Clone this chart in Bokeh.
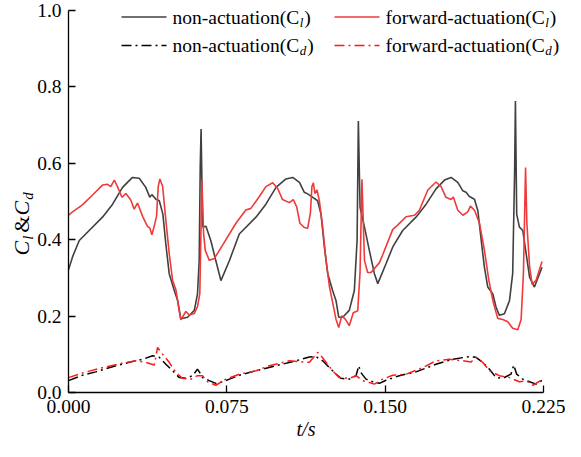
import math
from bokeh.plotting import figure
from bokeh.models import FixedTicker, NumeralTickFormatter, Label
from bokeh.embed import file_html
from bokeh.resources import INLINE

# ---------------- data ----------------
t_cl_non = [0.0000, 0.0019, 0.0051, 0.0098, 0.0161, 0.0209, 0.0256, 0.0303, 0.0335, 0.0366,
            0.0385, 0.0395, 0.0414, 0.0430, 0.0447, 0.0461, 0.0477, 0.0501, 0.0517, 0.0532,
            0.0564, 0.0596, 0.0611, 0.0619, 0.0624, 0.0628, 0.0632, 0.0635, 0.0651, 0.0674,
            0.0698, 0.0722, 0.0762, 0.0809, 0.0888, 0.0935, 0.0983, 0.1030, 0.1062, 0.1094,
            0.1117, 0.1133, 0.1157, 0.1180, 0.1196, 0.1212, 0.1228, 0.1251, 0.1267, 0.1280,
            0.1299, 0.1330, 0.1354, 0.1367, 0.1373, 0.1381, 0.1402, 0.1425, 0.1449, 0.1465,
            0.1504, 0.1536, 0.1583, 0.1646, 0.1694, 0.1741, 0.1781, 0.1812, 0.1844, 0.1868,
            0.1883, 0.1899, 0.1923, 0.1939, 0.1955, 0.1970, 0.1986, 0.2010, 0.2025, 0.2041,
            0.2065, 0.2089, 0.2104, 0.2113, 0.2117, 0.2123, 0.2136, 0.2152, 0.2168, 0.2184,
            0.2207, 0.2243]
cl_non = [0.321, 0.355, 0.398, 0.424, 0.459, 0.493, 0.537, 0.563, 0.561, 0.537,
          0.511, 0.518, 0.506, 0.502, 0.467, 0.389, 0.311, 0.267, 0.241, 0.193,
          0.197, 0.215, 0.258, 0.345, 0.590, 0.690, 0.550, 0.433, 0.435, 0.398,
          0.345, 0.293, 0.345, 0.415, 0.459, 0.493, 0.537, 0.559, 0.563, 0.550,
          0.524, 0.520, 0.511, 0.502, 0.467, 0.381, 0.311, 0.267, 0.241, 0.197,
          0.197, 0.215, 0.267, 0.398, 0.711, 0.485, 0.433, 0.372, 0.311, 0.285,
          0.337, 0.381, 0.424, 0.459, 0.493, 0.533, 0.556, 0.563, 0.550, 0.528,
          0.524, 0.513, 0.506, 0.476, 0.398, 0.328, 0.276, 0.258, 0.224, 0.202,
          0.206, 0.241, 0.311, 0.572, 0.763, 0.467, 0.433, 0.424, 0.363, 0.302,
          0.276, 0.328]

t_cl_fwd = [0.0000, 0.0019, 0.0066, 0.0114, 0.0161, 0.0185, 0.0200, 0.0217, 0.0232, 0.0253,
            0.0272, 0.0295, 0.0311, 0.0327, 0.0351, 0.0374, 0.0385, 0.0395, 0.0406, 0.0417,
            0.0425, 0.0433, 0.0446, 0.0461, 0.0477, 0.0493, 0.0509, 0.0521, 0.0532, 0.0556,
            0.0572, 0.0596, 0.0611, 0.0622, 0.0632, 0.0640, 0.0648, 0.0667, 0.0691, 0.0730,
            0.0793, 0.0840, 0.0864, 0.0904, 0.0935, 0.0967, 0.0991, 0.1014, 0.1046, 0.1065,
            0.1081, 0.1096, 0.1117, 0.1133, 0.1146, 0.1153, 0.1160, 0.1167, 0.1177, 0.1188,
            0.1204, 0.1220, 0.1236, 0.1251, 0.1267, 0.1280, 0.1295, 0.1311, 0.1330, 0.1349,
            0.1370, 0.1381, 0.1390, 0.1402, 0.1417, 0.1433, 0.1473, 0.1488, 0.1536, 0.1559,
            0.1599, 0.1639, 0.1662, 0.1702, 0.1741, 0.1765, 0.1788, 0.1812, 0.1823, 0.1844,
            0.1868, 0.1891, 0.1904, 0.1923, 0.1947, 0.1970, 0.1991, 0.2010, 0.2033, 0.2057,
            0.2081, 0.2104, 0.2128, 0.2144, 0.2155, 0.2165, 0.2171, 0.2184, 0.2196, 0.2215,
            0.2243]
cl_fwd = [0.464, 0.473, 0.491, 0.517, 0.543, 0.545, 0.539, 0.556, 0.539, 0.511,
          0.521, 0.504, 0.480, 0.496, 0.461, 0.435, 0.431, 0.413, 0.435, 0.461,
          0.539, 0.559, 0.539, 0.452, 0.364, 0.294, 0.268, 0.225, 0.190, 0.212,
          0.203, 0.207, 0.225, 0.259, 0.556, 0.415, 0.372, 0.346, 0.351, 0.386,
          0.443, 0.478, 0.482, 0.513, 0.539, 0.549, 0.534, 0.505, 0.497, 0.505,
          0.486, 0.443, 0.432, 0.430, 0.471, 0.539, 0.549, 0.521, 0.530, 0.503,
          0.434, 0.346, 0.277, 0.236, 0.192, 0.170, 0.201, 0.192, 0.175, 0.209,
          0.214, 0.314, 0.558, 0.346, 0.314, 0.314, 0.340, 0.360, 0.427, 0.438,
          0.460, 0.464, 0.477, 0.530, 0.551, 0.539, 0.511, 0.505, 0.512, 0.477,
          0.464, 0.473, 0.488, 0.477, 0.443, 0.373, 0.294, 0.241, 0.194, 0.191,
          0.185, 0.168, 0.164, 0.191, 0.314, 0.589, 0.445, 0.331, 0.283, 0.294,
          0.343]

t_cd_non = [0.0000, 0.0066, 0.0129, 0.0224, 0.0288, 0.0351, 0.0398, 0.0430, 0.0461, 0.0493,
            0.0525, 0.0556, 0.0588, 0.0611, 0.0622, 0.0635, 0.0667, 0.0698, 0.0730, 0.0762,
            0.0809, 0.0888, 0.0983, 0.1077, 0.1141, 0.1172, 0.1204, 0.1236, 0.1267, 0.1291,
            0.1330, 0.1362, 0.1375, 0.1385, 0.1409, 0.1441, 0.1473, 0.1504, 0.1567, 0.1646,
            0.1741, 0.1820, 0.1899, 0.1930, 0.1962, 0.1994, 0.2025, 0.2057, 0.2096, 0.2109,
            0.2123, 0.2152, 0.2184, 0.2215, 0.2247]
cd_non = [0.031, 0.045, 0.054, 0.070, 0.079, 0.087, 0.096, 0.092, 0.074, 0.057,
          0.039, 0.037, 0.044, 0.061, 0.052, 0.039, 0.031, 0.024, 0.028, 0.035,
          0.045, 0.057, 0.070, 0.083, 0.093, 0.094, 0.083, 0.065, 0.048, 0.037,
          0.035, 0.044, 0.070, 0.052, 0.035, 0.028, 0.024, 0.032, 0.044, 0.054,
          0.074, 0.087, 0.094, 0.092, 0.079, 0.061, 0.039, 0.037, 0.048, 0.072,
          0.048, 0.035, 0.028, 0.022, 0.033]

t_cd_fwd = [0.0000, 0.0066, 0.0161, 0.0256, 0.0319, 0.0366, 0.0406, 0.0422, 0.0446, 0.0477,
            0.0509, 0.0540, 0.0580, 0.0611, 0.0635, 0.0659, 0.0698, 0.0746, 0.0809, 0.0888,
            0.0951, 0.1046, 0.1109, 0.1141, 0.1180, 0.1196, 0.1220, 0.1251, 0.1283, 0.1330,
            0.1362, 0.1393, 0.1425, 0.1449, 0.1488, 0.1536, 0.1599, 0.1678, 0.1741, 0.1804,
            0.1868, 0.1907, 0.1930, 0.1962, 0.1994, 0.2041, 0.2089, 0.2136, 0.2168, 0.2199,
            0.2247]
cd_fwd = [0.039, 0.051, 0.065, 0.077, 0.083, 0.079, 0.072, 0.118, 0.100, 0.079,
          0.052, 0.037, 0.035, 0.044, 0.044, 0.028, 0.019, 0.035, 0.048, 0.057,
          0.070, 0.083, 0.080, 0.079, 0.105, 0.096, 0.079, 0.057, 0.039, 0.037,
          0.044, 0.031, 0.026, 0.022, 0.035, 0.045, 0.048, 0.065, 0.083, 0.087,
          0.083, 0.080, 0.092, 0.079, 0.057, 0.044, 0.039, 0.028, 0.031, 0.019,
          0.035]

x_ticks = [0.0, 0.075, 0.150, 0.225]
y_ticks = [0.0, 0.2, 0.4, 0.6, 0.8, 1.0]
X_LIM = (0.0, 0.225)
Y_LIM = (0.0, 1.0)

# ---------------- layout (page pixels of the reference) ----------------
FONT = "Liberation Serif, Times New Roman, serif"
GRAY = "#404040"
RED_L = "#f03a3a"
RED_D = "#ff1a1a"
DASHDOT = "10 4 2 4"

W, H = 565, 441                 # canvas (page offset 8px)
AX_L, AX_R = 76.0, 551.0        # page x of x=0 and x=0.225
AX_B, AX_T = 400.0, 18.0        # page y of y=0 and y=1
KX = (X_LIM[1] - X_LIM[0]) / (AX_R - AX_L)
KY = (Y_LIM[1] - Y_LIM[0]) / (AX_B - AX_T)


def dx(px):
    return X_LIM[0] + (px - AX_L) * KX


def dy(py):
    return Y_LIM[0] + (AX_B - py) * KY


x_range = (dx(8), dx(8 + W))
y_range = (dy(8 + H), dy(8))

p = figure(width=W, height=H, x_range=x_range, y_range=y_range,
           output_backend="svg", toolbar_location=None, min_border=0)
p.outline_line_color = None
p.xgrid.visible = False
p.ygrid.visible = False
p.background_fill_color = "white"
p.border_fill_color = "white"

for ax in (p.xaxis[0], p.yaxis[0]):
    ax.axis_line_color = "black"
    ax.axis_line_width = 1.3
    ax.major_tick_line_color = "black"
    ax.major_tick_line_width = 1.3
    ax.major_tick_in = 7
    ax.major_tick_out = 0
    ax.minor_tick_line_color = None
    ax.major_label_text_font = FONT
    ax.major_label_text_font_size = "19.5px"
    ax.major_label_text_color = "black"

p.xaxis.fixed_location = Y_LIM[0]
p.yaxis.fixed_location = X_LIM[0]
p.xaxis.bounds = X_LIM
p.yaxis.bounds = Y_LIM
p.xaxis.major_label_standoff = 7
p.yaxis.major_label_standoff = 7
p.xaxis.ticker = FixedTicker(ticks=x_ticks)
p.xaxis.formatter = NumeralTickFormatter(format="0.000")
p.yaxis.ticker = FixedTicker(ticks=y_ticks)
p.yaxis.formatter = NumeralTickFormatter(format="0.0")

# ---------------- series ----------------
p.line(t_cl_non, cl_non, line_color=GRAY, line_width=1.6)
p.line(t_cl_fwd, cl_fwd, line_color=RED_L, line_width=1.6)
p.line(t_cd_non, cd_non, line_color="black", line_width=1.5, line_dash=DASHDOT)
p.line(t_cd_fwd, cd_fwd, line_color=RED_D, line_width=1.5, line_dash=DASHDOT)


def lab(x, y, text, size="19.5px", style="normal", align="left", angle=0.0):
    p.add_layout(Label(x=x, y=y, text=text, text_font=FONT, text_font_size=size,
                       text_font_style=style, text_color="black",
                       text_baseline="middle", text_align=align, angle=angle))


# ---------------- x axis label ----------------
lab(dx(313.5), dy(436), "t/s", size="20px", style="italic", align="center")

# ---------------- manual legend ----------------
FS = 19.5
SUB = 13
rows = [24.5, 53.0]
cols = [180.0, 393.0]
entries = [
    ("non-actuation(C", "l", GRAY, 1.6, None, 0, 0),
    ("forward-actuation(C", "l", RED_L, 1.6, None, 0, 1),
    ("non-actuation(C", "d", "black", 1.5, DASHDOT, 1, 0),
    ("forward-actuation(C", "d", RED_D, 1.5, DASHDOT, 1, 1),
]
pref_w = {"non-actuation(C": 6.499, "forward-actuation(C": 8.164}
sub_w = {"l": 0.278, "d": 0.5}
for prefix, sub, color, lw, dash, r, c in entries:
    ty = rows[r]
    tx = cols[c]
    kw = dict(line_color=color, line_width=lw)
    if dash:
        kw["line_dash"] = dash
    p.line([dx(tx - 51), dx(tx - 6)], [dy(ty), dy(ty)], **kw)
    lab(dx(tx), dy(ty), prefix)
    sx = tx + pref_w[prefix] * FS + 0.5
    lab(dx(sx), dy(ty + 5), sub, size=f"{SUB}px", style="italic")
    lab(dx(sx + sub_w[sub] * SUB + 1.0), dy(ty), ")")

# ---------------- y axis label (rotated pieces, reading upward) ----------------
YL_X = 29.0
cur = 263.0
pieces = [("C", "22px", "italic", 0, 0.667 * 22 + 1),
          ("l", "15px", "italic", 6, 0.278 * 15 + 3),
          ("&", "22px", "normal", 0, 0.778 * 22),
          ("C", "22px", "italic", 0, 0.667 * 22 + 1),
          ("d", "15px", "italic", 6, 0.5 * 15)]
for txt, size, style, off, w in pieces:
    lab(dx(YL_X + off), dy(cur), txt, size=size, style=style, angle=math.pi / 2)
    cur -= w

open("out.html", "w").write(file_html(p, INLINE))
